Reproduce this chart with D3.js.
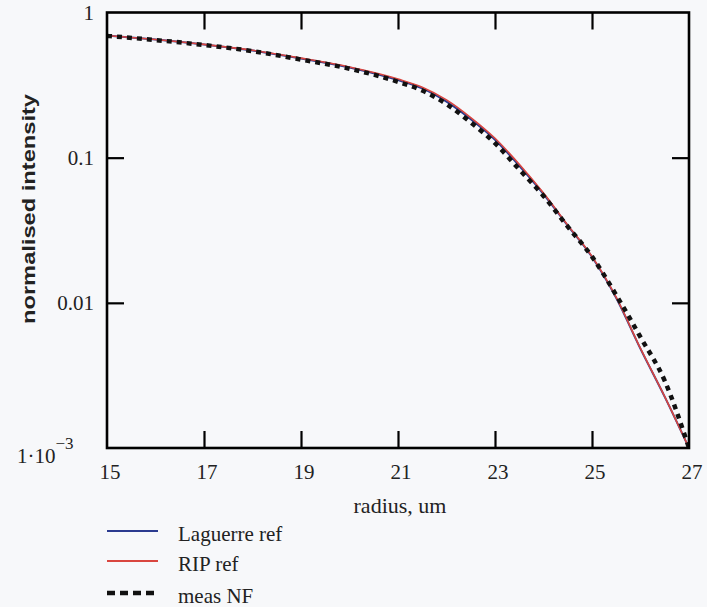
<!DOCTYPE html>
<html><head><meta charset="utf-8">
<script src="https://cdn.jsdelivr.net/npm/d3@7"></script>
<style>
html,body{margin:0;padding:0;background:#f7f8fa;}
svg{display:block;}
</style></head>
<body>
<svg id="c" width="707" height="607"></svg>
<script>
// ---- data ----
const radius = [15,16,17,18,19,20,21,21.5,22,22.5,23,23.5,24,24.5,25,25.5,26,26.5,27];
const laguerre = [0.694,0.651,0.602,0.547,0.482,0.418,0.342,0.300,0.243,0.184,0.133,0.088,0.0562,0.0340,0.0207,0.0108,0.00482,0.00225,0.001];
const rip      = [0.694,0.651,0.603,0.549,0.485,0.421,0.348,0.306,0.250,0.189,0.136,0.090,0.0570,0.0343,0.0209,0.0109,0.00485,0.00226,0.001];
const measR    = [15,16,17,18,19,20,21,21.5,22,22.5,23,23.5,24,24.5,25,25.5,26,26.5,27];
const measNF   = [0.69,0.646,0.597,0.542,0.474,0.41,0.333,0.29,0.234,0.175,0.126,0.083,0.0545,0.0335,0.0208,0.0113,0.0058,0.0029,0.001];
const xTicks = [15,17,19,21,23,25,27];
const yTicks = [1,0.1,0.01,0.001];
const legendLabels = ["Laguerre ref","RIP ref","meas NF"];

const svg = d3.select("#c");
const L=107, R=689, T=12.5, B=448;
const x = d3.scaleLinear().domain([15,27]).range([L,R]);
const y = d3.scaleLog().domain([0.001,1]).range([B,T]);
const serif = "'Liberation Serif','Times New Roman',serif";
const col = {lag:"#2b3b8f", rip:"#d9463f", meas:"#111"};

// axes (inside ticks)
const tl = 17;
const inner = xTicks.slice(1,-1);
const styleAx = g=>{g.select(".domain").remove(); g.selectAll("line").attr("stroke","#000").attr("stroke-width",2.2);};
svg.append("g").attr("transform",`translate(0,${B})`)
  .call(d3.axisBottom(x).tickValues(inner).tickSize(-tl).tickFormat("")).call(styleAx);
svg.append("g").attr("transform",`translate(0,${T})`)
  .call(d3.axisTop(x).tickValues(inner).tickSize(-tl).tickFormat("")).call(styleAx);
svg.append("g").attr("transform",`translate(${L},0)`)
  .call(d3.axisLeft(y).tickValues([0.1,0.01]).tickSize(-tl).tickFormat("")).call(styleAx);
svg.append("g").attr("transform",`translate(${R},0)`)
  .call(d3.axisRight(y).tickValues([0.1,0.01]).tickSize(-tl).tickFormat("")).call(styleAx);

// x tick labels
svg.append("g").selectAll("text").data(xTicks).join("text")
  .attr("x",d=>x(d)+3).attr("y",B+31)
  .attr("text-anchor","middle").attr("font-family",serif).attr("font-size",21).attr("fill","#222")
  .text(d=>d);

// y tick labels
const yl = svg.append("g");
yTicks.forEach(v=>{
  if(v===0.001){
    const t = yl.append("text").attr("x",17).attr("y",y(v)+15)
      .attr("font-family",serif).attr("font-size",21).attr("fill","#222");
    t.append("tspan").text("1\u00b710");
    t.append("tspan").attr("dy",-14).attr("font-size",17).text("\u22123");
  } else {
    yl.append("text").attr("x",94).attr("y",y(v)+7)
      .attr("text-anchor","end").attr("font-family",serif).attr("font-size",21).attr("fill","#222")
      .text(v);
  }
});

// axis titles
svg.append("text").attr("x",400).attr("y",513).attr("text-anchor","middle")
  .attr("font-family",serif).attr("font-size",22).attr("fill","#222").text("radius, um");
svg.append("text").attr("transform","translate(35,209) rotate(-90)").attr("text-anchor","middle")
  .attr("font-family","'Liberation Sans Narrow','Liberation Sans',Arial,sans-serif")
  .attr("font-weight","bold").attr("font-size",19).attr("fill","#222")
  .attr("textLength",230).attr("lengthAdjust","spacingAndGlyphs")
  .text("normalised intensity");

// lines
const line = d3.line().x(d=>x(d[0])).y(d=>y(d[1])).curve(d3.curveMonotoneX);
svg.append("clipPath").attr("id","pc").append("rect")
  .attr("x",L).attr("y",T).attr("width",R-L).attr("height",B-T);
const pg = svg.append("g").attr("clip-path","url(#pc)");
pg.append("path").datum(radius.map((r,i)=>[r,laguerre[i]])).attr("d",line)
  .attr("fill","none").attr("stroke",col.lag).attr("stroke-width",2);
pg.append("path").datum(radius.map((r,i)=>[r,rip[i]])).attr("d",line)
  .attr("fill","none").attr("stroke",col.rip).attr("stroke-width",1.6);
pg.append("path").datum(measR.map((r,i)=>[r,measNF[i]])).attr("d",line)
  .attr("fill","none").attr("stroke",col.meas).attr("stroke-width",4.5).attr("stroke-dasharray","5,5");

// frame
svg.append("rect").attr("x",L).attr("y",T).attr("width",R-L).attr("height",B-T)
  .attr("fill","none").attr("stroke","#000").attr("stroke-width",2.6);

// legend
const lg = svg.append("g");
const ly = [531,561,593];
const lstyles = [
  {c:col.lag,w:2,d:null},
  {c:col.rip,w:2,d:null},
  {c:col.meas,w:4.5,d:"8,5"}
];
legendLabels.forEach((t,i)=>{
  const s=lstyles[i];
  const ln = lg.append("line").attr("x1",107).attr("x2",158).attr("y1",ly[i]).attr("y2",ly[i])
    .attr("stroke",s.c).attr("stroke-width",s.w);
  if(s.d) ln.attr("stroke-dasharray",s.d);
  lg.append("text").attr("x",178).attr("y",ly[i]+10).attr("font-family",serif).attr("font-size",21)
    .attr("fill","#222").text(t);
});
</script>
</body></html>
